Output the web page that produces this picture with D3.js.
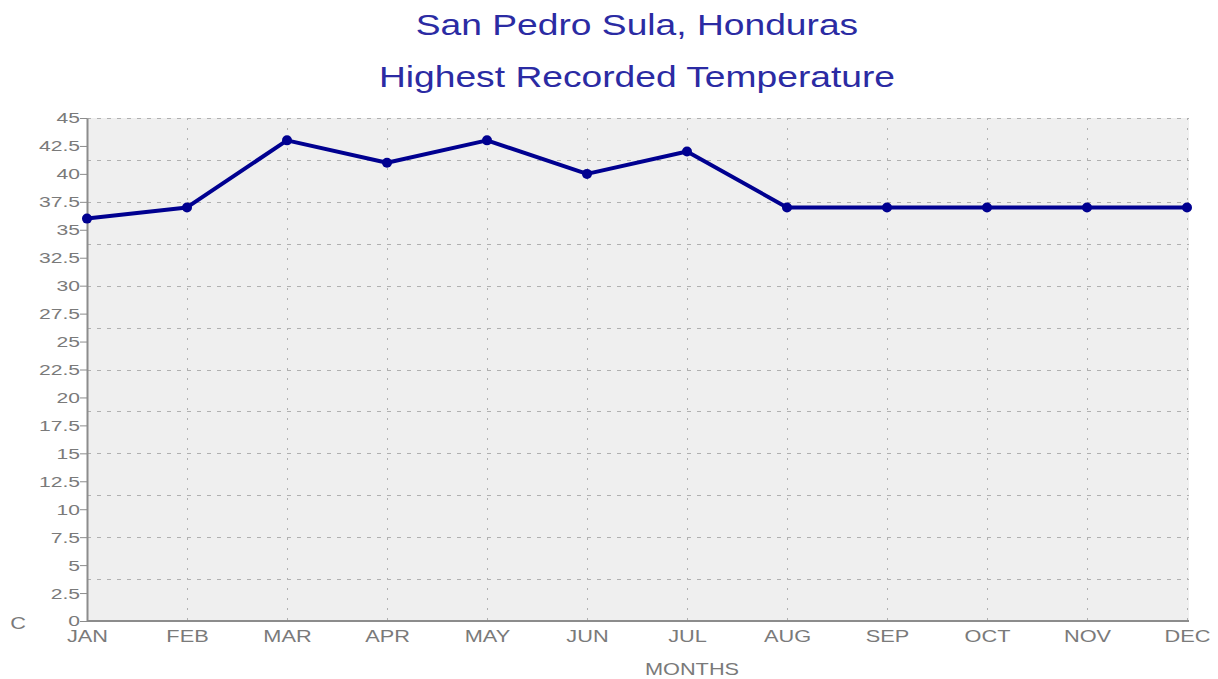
<!DOCTYPE html>
<html>
<head>
<meta charset="utf-8">
<script src="https://cdn.jsdelivr.net/npm/d3@7"></script>
<style>
  body { margin: 0; background: #fff; }
  text { font-family: "Liberation Sans", Arial, sans-serif; }
</style>
</head>
<body>
<div class="svgWrapper"></div>
<script>
// Data //
const months = ["JAN", "FEB", "MAR", "APR", "MAY", "JUN", "JUL", "AUG", "SEP", "OCT", "NOV", "DEC"];
const highTemps = [36, 37, 43, 41, 43, 40, 42, 37, 37, 37, 37, 37];
const yTicks = [0, 2.5, 5, 7.5, 10, 12.5, 15, 17.5, 20, 22.5, 25, 27.5, 30, 32.5, 35, 37.5, 40, 42.5, 45];

// Styles //
const svgStyles = { w: 1218, h: 679 };
const chartStyles = {
  margin: { top: 118, right: 29, bottom: 58, left: 87 }
};
chartStyles.w = svgStyles.w - chartStyles.margin.left - chartStyles.margin.right;
chartStyles.h = svgStyles.h - chartStyles.margin.top - chartStyles.margin.bottom;

const titleColor = "#2b2ba3";
const lineColor = "#000090";
const axisGrey = "#8c8c8c";
const labelGrey = "#7a7a7a";
// the reference text is drawn a little wide
const titleStretch = 1.24;
const labelStretch = 1.36;

let svg = d3
  .select(".svgWrapper")
  .append("svg")
  .attr("width", svgStyles.w)
  .attr("height", svgStyles.h);

// wide text helper
function wideText(parent, x, y, s, str, size, color, anchor) {
  return parent
    .append("text")
    .attr("transform", `translate(${x}, ${y}) scale(${s}, 1)`)
    .attr("text-anchor", anchor || "middle")
    .attr("fill", color)
    .style("font-size", size)
    .text(str);
}

// titles
wideText(svg, 637, 35, titleStretch, "San Pedro Sula, Honduras", "30px", titleColor);
wideText(svg, 637, 87, titleStretch, "Highest Recorded Temperature", "30px", titleColor);

let chart = svg
  .append("g")
  .attr("transform", `translate(${chartStyles.margin.left}, ${chartStyles.margin.top})`);

// scales
const xScale = d3.scalePoint().domain(months).range([0, chartStyles.w - 2]);
const yScale = d3.scaleLinear().domain([0, 45]).range([chartStyles.h, 0]);

// plot background
chart
  .append("rect")
  .attr("x", 0)
  .attr("y", 0)
  .attr("width", chartStyles.w)
  .attr("height", chartStyles.h)
  .attr("fill", "#efefef");

// horizontal grid (12 divisions)
const gridVals = d3.range(1, 13).map(i => i * 45 / 12);
chart
  .selectAll(".hgrid")
  .data(gridVals)
  .enter()
  .append("line")
  .attr("class", "hgrid")
  .attr("x1", 0)
  .attr("x2", chartStyles.w)
  .attr("y1", d => Math.round(yScale(d)) + 0.5)
  .attr("y2", d => Math.round(yScale(d)) + 0.5)
  .attr("stroke", "#b0b0b0")
  .attr("stroke-dasharray", "4,6");

// vertical grid
chart
  .selectAll(".vgrid")
  .data(months.slice(1))
  .enter()
  .append("line")
  .attr("class", "vgrid")
  .attr("x1", d => Math.round(xScale(d)) + 0.5)
  .attr("x2", d => Math.round(xScale(d)) + 0.5)
  .attr("y1", 0)
  .attr("y2", chartStyles.h)
  .attr("stroke", "#b0b0b0")
  .attr("stroke-dasharray", "2,8");

// Y axis
const yAxis = d3.axisLeft(yScale).tickValues(yTicks).tickSize(7).tickSizeOuter(0).tickFormat(d3.format("~g"));
const yG = chart.append("g").call(yAxis);
yG.select(".domain").attr("stroke", axisGrey).attr("stroke-width", 2);
yG.selectAll(".tick line").attr("stroke", axisGrey);
yG.selectAll(".tick text")
  .attr("fill", labelGrey)
  .attr("x", 0)
  .attr("transform", `translate(-7, 0) scale(${labelStretch}, 1)`)
  .style("font-size", "15.5px");

// X axis
const xAxis = d3.axisBottom(xScale).tickSize(0).tickSizeOuter(0);
const xG = chart.append("g").attr("transform", `translate(0, ${chartStyles.h})`).call(xAxis);
xG.select(".domain").attr("stroke", axisGrey).attr("stroke-width", 2).attr("d", `M0,0H${chartStyles.w}`);
xG.selectAll(".tick text")
  .attr("fill", labelGrey)
  .attr("y", 0)
  .attr("transform", `translate(0, 10) scale(${labelStretch}, 1)`)
  .style("font-size", "16px");

// axis titles
wideText(svg, 18, 629, labelStretch, "C", "16px", labelGrey);
wideText(svg, 692, 675, labelStretch, "MONTHS", "16px", labelGrey);

// line
const line = d3
  .line()
  .x((d, i) => xScale(months[i]))
  .y(d => yScale(d));

chart
  .append("path")
  .datum(highTemps)
  .attr("d", line)
  .attr("fill", "none")
  .attr("stroke", lineColor)
  .attr("stroke-width", 4)
  .attr("stroke-linejoin", "round");

chart
  .selectAll(".dot")
  .data(highTemps)
  .enter()
  .append("circle")
  .attr("class", "dot")
  .attr("cx", (d, i) => xScale(months[i]))
  .attr("cy", d => yScale(d))
  .attr("r", 5)
  .attr("fill", lineColor);
</script>
</body>
</html>
